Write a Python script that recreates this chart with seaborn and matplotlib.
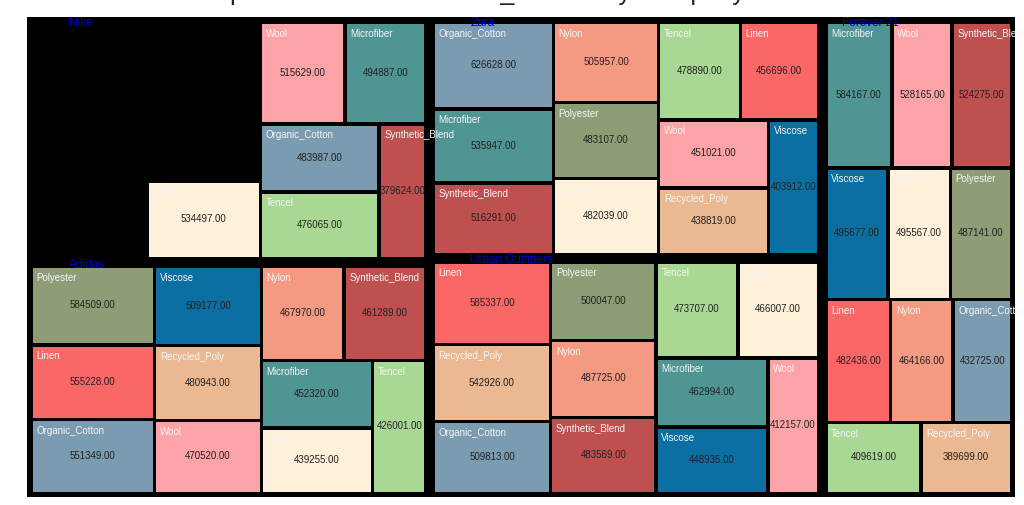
import matplotlib
matplotlib.use("Agg")
import matplotlib.pyplot as plt
from matplotlib.patches import Rectangle
import seaborn as sns

# Brands and materials
brands = ["Nike", "Adidas", "Zara", "Urban Outfitters", "Forever 21"]
materials = ["Cotton", "Linen", "Microfiber", "Nylon", "Organic_Cotton", "Polyester",
             "Recycled_Poly", "Synthetic_Blend", "Tencel", "Viscose", "Wool"]

# Quantity per material (same order as materials)
nike_values = [534497, 552000, 494887, 551000, 483987, 550000, 543000, 379624, 476065, 540000, 515629]
adidas_values = [439255, 555228, 452320, 467970, 551349, 584509, 480943, 461289, 426001, 509177, 470520]
zara_values = [482039, 456696, 535947, 505957, 626628, 483107, 438819, 516291, 478890, 403912, 451021]
urban_values = [466007, 585337, 462994, 487725, 509813, 500047, 542926, 483569, 473707, 448935, 412157]
forever_values = [495567, 482436, 584167, 464166, 432725, 487141, 389699, 524275, 409619, 495677, 528165]

# tiles that show up as plain black (no colour, no labels) in the Nike block
nike_blank = ["Linen", "Nylon", "Polyester", "Recycled_Poly", "Viscose"]

material_colors = ["#FEF0D9", "#FA6767", "#4F9594", "#F59A82", "#7A9BB0", "#8E9D76",
                   "#EAB891", "#BE5150", "#A8D894", "#0B6FA1", "#FCA3A8"]

title = "Treemap of Brand Material Total_Volume by Company"

PHI = (1 + 5 ** 0.5) / 2


# --- squarified treemap, golden-ratio variant (like d3 / echarts) ---
def squarify(values, x0, y0, x1, y1, ratio=PHI):
    rects = []
    value = float(sum(values))
    i0 = i1 = 0
    n = len(values)
    while i0 < n:
        dx, dy = x1 - x0, y1 - y0
        sum_v = values[i1]
        i1 += 1
        min_v = max_v = sum_v
        alpha = max(dy / dx, dx / dy) / (value * ratio)
        beta = sum_v * sum_v * alpha
        min_ratio = max(max_v / beta, beta / min_v)
        while i1 < n:
            v = values[i1]
            sum_v += v
            min_v = min(min_v, v)
            max_v = max(max_v, v)
            beta = sum_v * sum_v * alpha
            new_ratio = max(max_v / beta, beta / min_v)
            if new_ratio > min_ratio:
                sum_v -= v
                break
            min_ratio = new_ratio
            i1 += 1
        row = values[i0:i1]
        if dx < dy:
            # row across the top
            h = dy * sum_v / value
            x = x0
            for v in row:
                w = dx * v / sum_v
                rects.append((x, y0, w, h))
                x += w
            y0 += h
        else:
            # column on the left
            w = dx * sum_v / value
            y = y0
            for v in row:
                h = dy * v / sum_v
                rects.append((x0, y, w, h))
                y += h
            x0 += w
        value -= sum_v
        i0 = i1
    return rects


# --- plotting ---
sns.set_theme(style="white")
plt.rcParams["font.family"] = ["Liberation Sans", "DejaVu Sans"]

palette = dict(zip(materials, sns.color_palette(material_colors)))
brand_values = dict(zip(brands, [nike_values, adidas_values, zara_values, urban_values, forever_values]))

W, H = 988, 480
fig = plt.figure(figsize=(10.24, 5.06), dpi=100)
ax = fig.add_axes([27 / 1024, 8 / 506, W / 1024, H / 506])
ax.set_facecolor("black")
ax.set_xlim(0, W)
ax.set_ylim(H, 0)
ax.set_xticks([])
ax.set_yticks([])
for sp in ax.spines.values():
    sp.set_visible(False)

totals = [sum(brand_values[b]) for b in brands]
order = sorted(range(len(brands)), key=lambda i: -totals[i])
group_rects = squarify([totals[i] for i in order], 0, 1.5, W, H)

for gi, (gx, gy, gw, gh) in zip(order, group_rects):
    brand = brands[gi]
    vals = brand_values[brand]
    idx = sorted(range(len(materials)), key=lambda k: -vals[k])
    ix, iy, iw, ih = gx + 4, gy + 4, gw - 7.5, gh - 7.5
    tiles = squarify([vals[k] for k in idx], ix, iy, ix + iw, iy + ih)
    for k, (tx, ty, tw, th) in zip(idx, tiles):
        mat = materials[k]
        rx, ry, rw, rh = tx + 1.75, ty + 1.75, tw - 3.5, th - 3.5
        blank = brand == "Nike" and mat in nike_blank
        patch = Rectangle((rx, ry), rw, rh, facecolor="black" if blank else palette[mat],
                          edgecolor="none", zorder=1)
        ax.add_patch(patch)
        if blank:
            continue
        lab = ax.text(rx + 3.5, ry + 3.5, mat, ha="left", va="top", fontsize=7,
                      color="#f5f5f5", zorder=2)
        lab.set_clip_path(patch)
        ax.text(rx + rw / 2, ry + rh / 2 - 1.5, f"{vals[k]:.2f}", ha="center", va="center",
                fontsize=7, color="#222222", zorder=2)
    ax.text(gx + 0.105 * gw, max(gy + 1, 4.5), brand, ha="left", va="center",
            fontsize=8.5, color="mediumblue", zorder=3)

fig.text(0.434, 1.0, title, ha="center", va="baseline", fontsize=18, color="#222222")

fig.savefig("out.png", dpi=100, facecolor="white")
